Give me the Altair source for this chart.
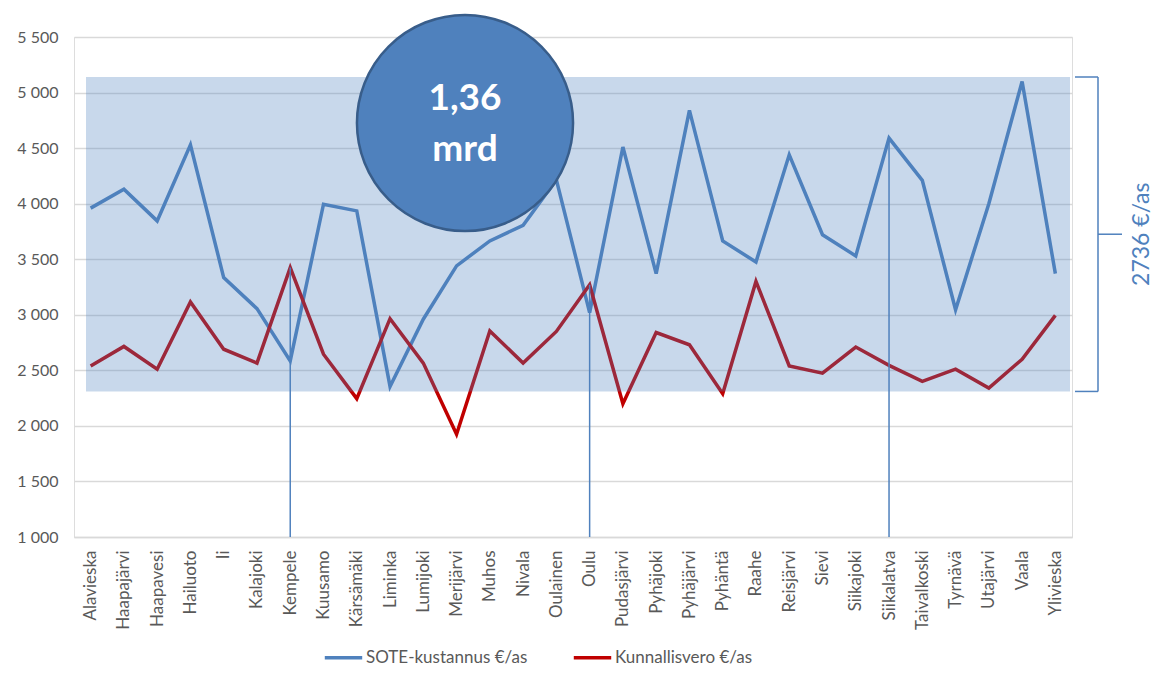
import altair as alt
import pandas as pd

# kunnat (x-akseli) ja sarjat, luettu kuvasta
kunnat = ["Alavieska", "Haapajärvi", "Haapavesi", "Hailuoto", "Ii", "Kalajoki", "Kempele",
          "Kuusamo", "Kärsämäki", "Liminka", "Lumijoki", "Merijärvi", "Muhos", "Nivala",
          "Oulainen", "Oulu", "Pudasjärvi", "Pyhäjoki", "Pyhäjärvi", "Pyhäntä", "Raahe",
          "Reisjärvi", "Sievi", "Siikajoki", "Siikalatva", "Taivalkoski", "Tyrnävä",
          "Utajärvi", "Vaala", "Ylivieska"]
sote = [3960, 4130, 3845, 4530, 3335, 3055, 2585, 3995, 3935, 2355, 2960, 3440, 3665, 3805,
        4215, 3020, 4510, 3370, 4840, 3665, 3475, 4440, 3720, 3530, 4590, 4210, 3045,
        4000, 5100, 3370]
vero = [2540, 2715, 2510, 3115, 2690, 2565, 3425, 2645, 2245, 2965, 2565, 1925, 2855, 2565,
        2850, 3270, 2200, 2840, 2730, 2290, 3300, 2540, 2475, 2710, 2545, 2400, 2510,
        2340, 2600, 2995]
sarjat = ["SOTE-kustannus €/as", "Kunnallisvero €/as"]
y_ticks = [1000, 1500, 2000, 2500, 3000, 3500, 4000, 4500, 5000, 5500]

# korostukset: pystyviivat, vaihteluväli ja tekstit
viiva_kunnat = ["Kempele", "Oulu", "Siikalatva"]
viiva_arvot = [3425, 3270, 4590]
vali_yla = 5140
vali_ala = 2310
vali_teksti = "2736 €/as"
pallo_rivit = ["1,36", "mrd"]

BLUE = "#4f81bd"
RED = "#c00000"
GREY = "#595959"
FONT = "Lato"

df = pd.DataFrame({
    "kunta": kunnat * 2,
    "sarja": [sarjat[0]] * len(kunnat) + [sarjat[1]] * len(kunnat),
    "arvo": sote + vero,
})
df_viivat = pd.DataFrame({"kunta": viiva_kunnat, "arvo": viiva_arvot})
df_vali = pd.DataFrame({"yla": [vali_yla], "ala": [vali_ala]})
yksi = pd.DataFrame({"a": [0]})

x_enc = alt.X("kunta:N", sort=kunnat, title=None,
              scale=alt.Scale(type="point", padding=0.5),
              axis=alt.Axis(labelAngle=-90, labelFontSize=17, labelColor=GREY, labelFont=FONT,
                            labelPadding=13, ticks=False, grid=False, domainColor="#d9d9d9",
                            domainWidth=1.5, labelOverlap=False))
y_enc = alt.Y("arvo:Q", title=None, scale=alt.Scale(domain=[1000, 5500], nice=False),
              axis=alt.Axis(values=y_ticks, labelExpr="replace(format(datum.value, ','), ',', ' ')",
                            domain=False, ticks=False, gridColor="#d9d9d9", gridWidth=1.5,
                            labelFontSize=16, labelColor=GREY, labelFont=FONT, labelPadding=16))

#the two series
lines = alt.Chart(df).mark_line(strokeWidth=3.5).encode(
    x=x_enc,
    y=y_enc,
    color=alt.Color("sarja:N", scale=alt.Scale(domain=sarjat, range=[BLUE, RED]),
                    legend=alt.Legend(title=None, orient="none", legendX=249, legendY=600,
                                      direction="horizontal", symbolType="stroke",
                                      symbolSize=1400, symbolStrokeWidth=3.5,
                                      labelFontSize=17, labelColor=GREY, labelFont=FONT,
                                      labelOffset=2, columnPadding=38, labelLimit=400)),
)

#translucent band over the lines
band = alt.Chart(df_vali).mark_rect(color=BLUE, opacity=0.31).encode(
    x=alt.value(12), x2=alt.value(996), y="yla:Q", y2="ala:Q")

#thin drop lines
drops = alt.Chart(df_viivat).mark_rule(color=BLUE, strokeWidth=1.5).encode(
    x=alt.X("kunta:N", sort=kunnat), y="arvo:Q", y2=alt.datum(1000))

#circle with text
ball = alt.Chart(yksi).mark_point(shape="circle", size=46700, filled=True, fill=BLUE,
                                  fillOpacity=1, stroke="#385d8a", strokeWidth=2.5,
                                  strokeOpacity=1).encode(x=alt.value(391), y=alt.value(86))
ball_t1 = alt.Chart(yksi).mark_text(text=pallo_rivit[0], font=FONT, fontSize=37, fontWeight="bold",
                                    color="white").encode(x=alt.value(391), y=alt.value(62))
ball_t2 = alt.Chart(yksi).mark_text(text=pallo_rivit[1], font=FONT, fontSize=37, fontWeight="bold",
                                    color="white").encode(x=alt.value(391), y=alt.value(113))

#bracket on the right
br_v = alt.Chart(yksi).mark_rule(color=BLUE, strokeWidth=1.5).encode(
    x=alt.value(1024), y=alt.datum(vali_yla), y2=alt.datum(vali_ala))
br_top = alt.Chart(yksi).mark_rule(color=BLUE, strokeWidth=1.5).encode(
    x=alt.value(1001), x2=alt.value(1024), y=alt.datum(vali_yla))
br_bot = alt.Chart(yksi).mark_rule(color=BLUE, strokeWidth=1.5).encode(
    x=alt.value(1001), x2=alt.value(1024), y=alt.datum(vali_ala))
br_mid = alt.Chart(yksi).mark_rule(color=BLUE, strokeWidth=1.5).encode(
    x=alt.value(1024), x2=alt.value(1048), y=alt.datum((vali_yla + vali_ala) / 2))
br_txt = alt.Chart(yksi).mark_text(text=vali_teksti, angle=270, font=FONT, fontSize=23,
                                   color=BLUE, baseline="middle", align="center").encode(
    x=alt.value(1068), y=alt.datum((vali_yla + vali_ala) / 2))

chart = alt.layer(lines, band, drops, ball, ball_t1, ball_t2,
                  br_v, br_top, br_bot, br_mid, br_txt).properties(
    width=998, height=500,
    padding={"left": 66, "top": 29, "right": 84, "bottom": 130},
    autosize=alt.AutoSizeParams(type="none"),
).configure_view(stroke=None).configure(font=FONT)

chart.save("out.html", embed_options={"renderer": "svg", "actions": False})
